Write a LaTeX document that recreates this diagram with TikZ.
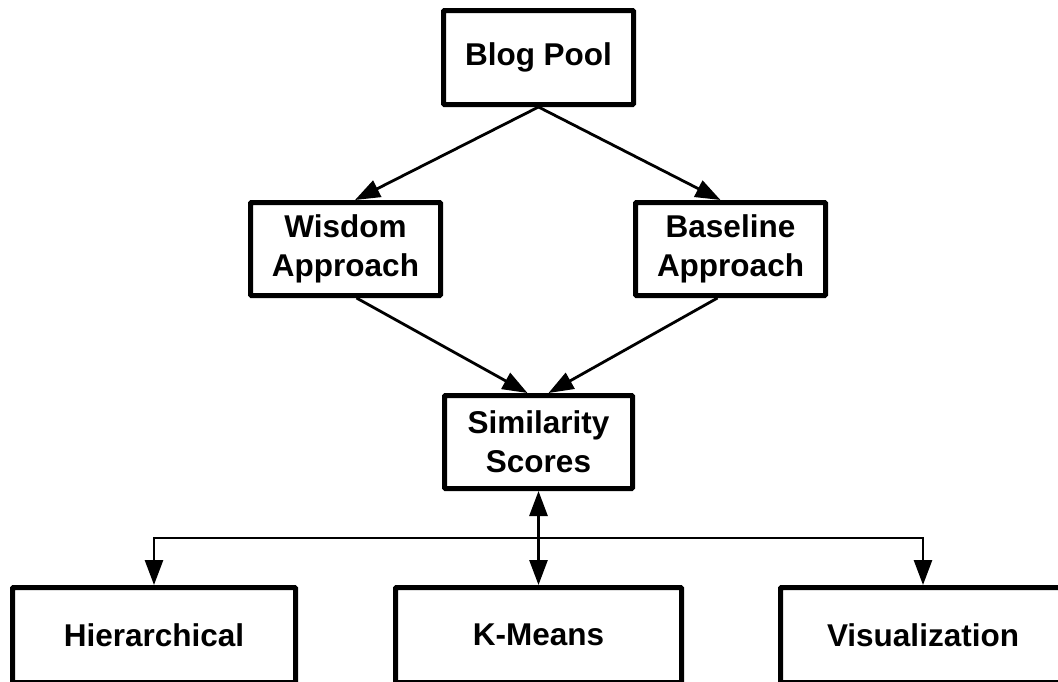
\documentclass[tikz,border=0pt]{standalone}
\usepackage{fontspec}
\setmainfont{Liberation Sans}
\usetikzlibrary{arrows.meta}
\begin{document}
\begin{tikzpicture}[x=1pt,y=-1pt,
  box/.style={draw=black, line width=5pt, fill=white, rectangle, rounded corners=1pt,
    align=center, inner sep=0pt,
    font=\fontsize{31.5}{39}\selectfont\bfseries},
  conn/.style={draw=black, line width=2.8pt},
  tip/.style={-{Triangle[length=25pt,width=18pt]}},
  tips/.style={{Triangle[length=25pt,width=18pt]}-{Triangle[length=25pt,width=18pt]}}
]
\useasboundingbox (0,0) rectangle (1058,681);
\node[box, minimum width=190pt, minimum height=94pt] (blog) at (538.5,57.5) {Blog Pool};
\node[box, minimum width=190pt, minimum height=93pt] (wisdom) at (345.5,249) {Wisdom\\Approach};
\node[box, minimum width=190pt, minimum height=93pt] (baseline) at (730.5,249) {Baseline\\Approach};
\node[box, minimum width=188pt, minimum height=93pt] (sim) at (538.5,442) {Similarity\\Scores};
\node[box, minimum width=283pt, minimum height=95pt] (hier) at (154,635) {Hierarchical};
\node[box, minimum width=286pt, minimum height=95pt] (kmeans) at (538.5,635) {K-Means};
\node[box, minimum width=285pt, minimum height=95pt] (vis) at (923,635) {Visualization};
\coordinate (bus) at (538.5,538);

\draw[conn,tip] (blog.south) -- ([xshift=9.5pt]wisdom.north);
\draw[conn,tip] (blog.south) -- ([xshift=-10pt]baseline.north);
\draw[conn,tip] ([xshift=11pt]wisdom.south) -- ([xshift=-11pt]sim.north);
\draw[conn,tip] ([xshift=-13pt]baseline.south) -- ([xshift=10pt]sim.north);
\draw[conn,tips] (sim.south) -- (kmeans.north);
\draw[conn,tip] (bus) -| (hier.north);
\draw[conn,tip] (bus) -| (vis.north);
\end{tikzpicture}
\end{document}
